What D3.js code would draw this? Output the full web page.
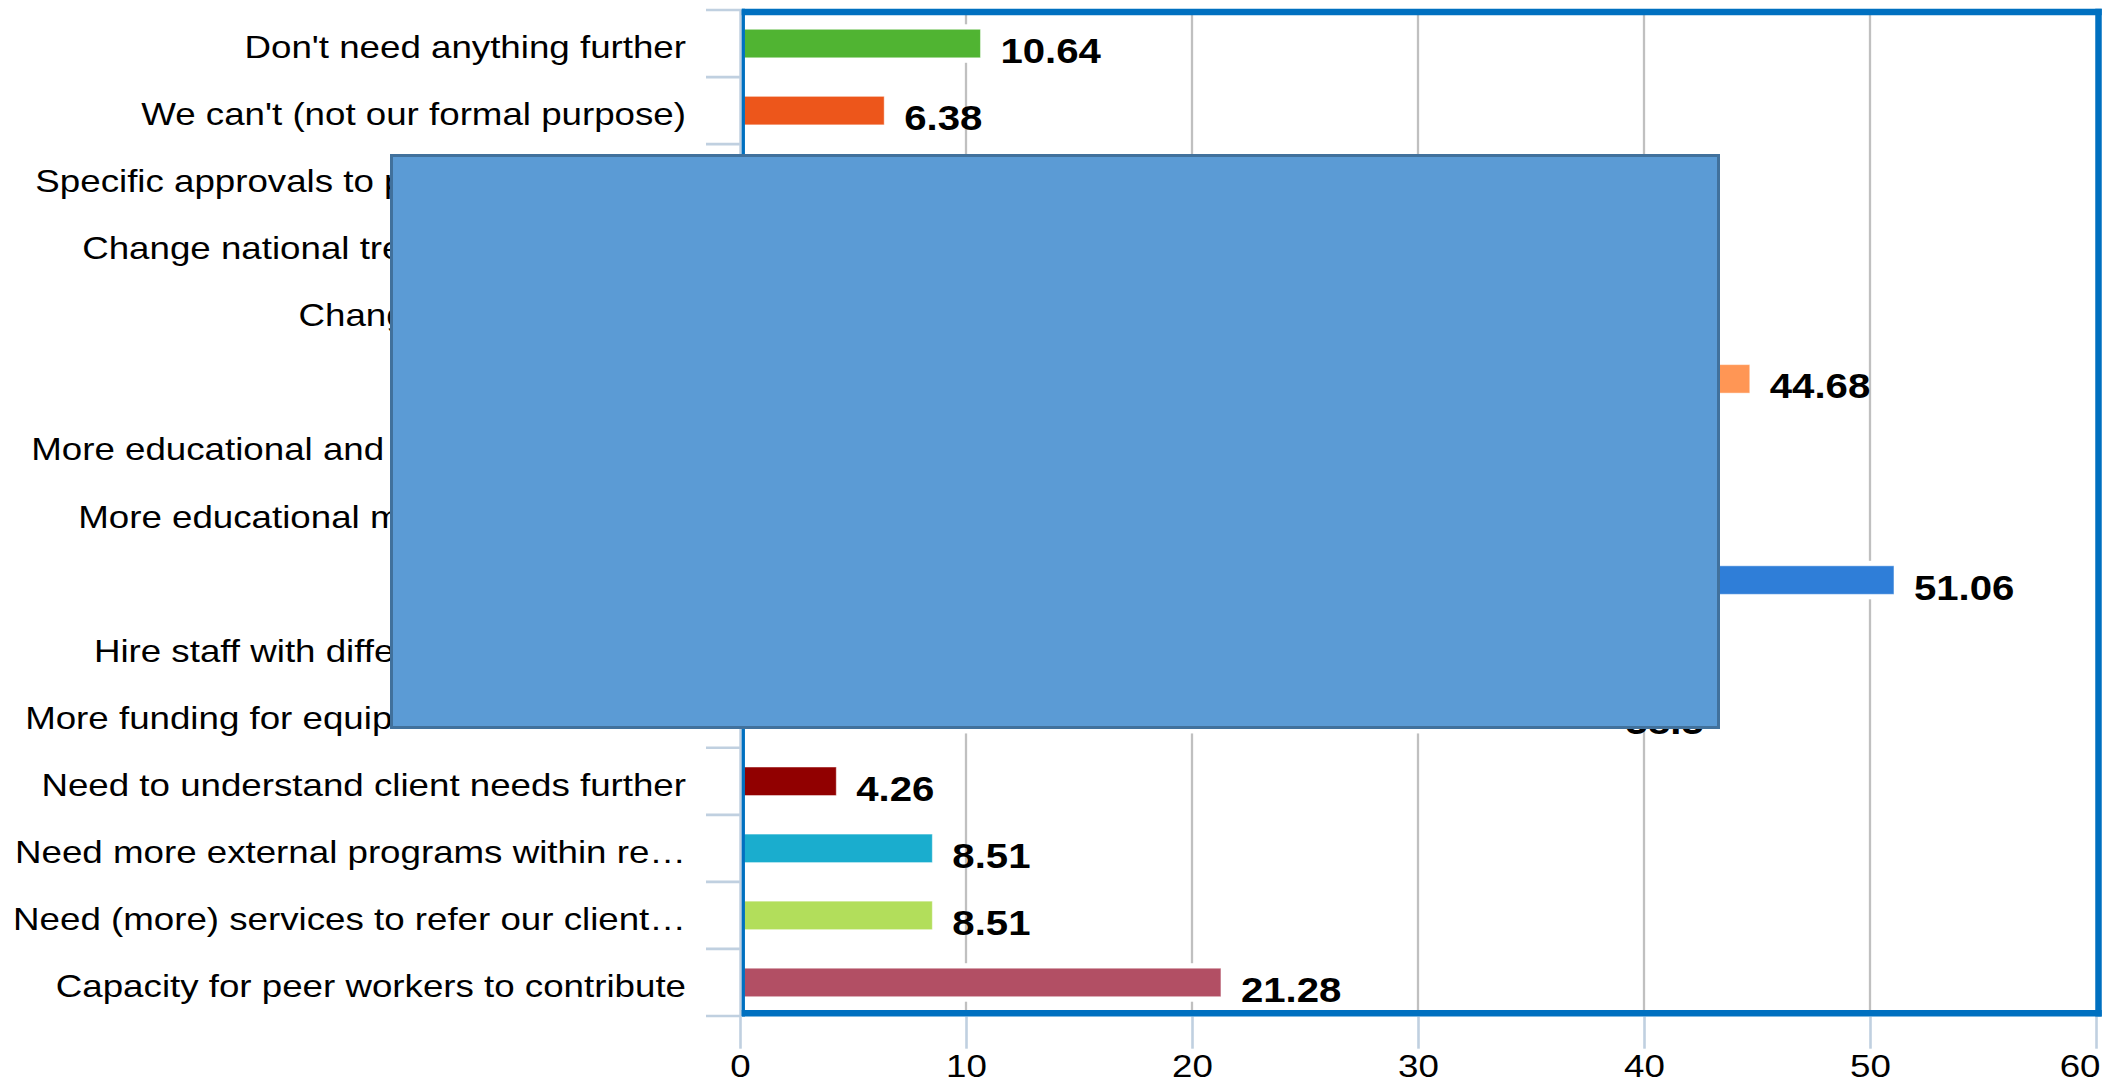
<!DOCTYPE html>
<html><head><meta charset="utf-8">
<script src="https://cdn.jsdelivr.net/npm/d3@7"></script>
<style>html,body{margin:0;padding:0;background:#fff;overflow:hidden}</style>
</head><body><svg id="chart" width="2104" height="1083"></svg>
<script>
const categories = [
  "Don't need anything further",
  "We can't (not our formal purpose)",
  "Specific approvals to provide equipment",
  "Change national treatment standards",
  "Change service policies",
  "Staff training",
  "More educational and training resources",
  "More educational materials for clients",
  "More staff",
  "Hire staff with different types of skills",
  "More funding for equipment and facilities",
  "Need to understand client needs further",
  "Need more external programs within reach",
  "Need (more) services to refer our clients to",
  "Capacity for peer workers to contribute"
];
const values = [10.64, 6.38, 14.89, 12.77, 19.15, 44.68, 31.91, 27.66, 51.06, 23.4, 38.3, 4.26, 8.51, 8.51, 21.28];
const barColors = ["#50B432","#ED561B","#DDDF00","#24CBE5","#64E572","#FF9655","#FFF263","#6AF9C4",
                   "#2F7ED8","#0D233A","#8BBC21","#910000","#1AADCE","#B2DE5B","#B24F64"];
const xTicks = [0, 10, 20, 30, 40, 50, 60];

const SX = 1.147;               // horizontal stretch of the text
const FONT = "'Liberation Sans', Arial, Helvetica, sans-serif";
const svg = d3.select("#chart");

const x = d3.scaleLinear().domain([0, 60]).range([740, 2096]);
const y = d3.scaleBand().domain(d3.range(categories.length)).range([10, 1016]);
const bh = 28.5;
const cy = i => y(i) + y.bandwidth() / 2;

// grid lines
svg.append("g").selectAll("line").data(xTicks.filter(t => t > 0 && t < 60)).join("line")
  .attr("x1", d => x(d)).attr("x2", d => x(d)).attr("y1", 14).attr("y2", 1011)
  .attr("stroke", "#c0c0c0").attr("stroke-width", 2.3);

// bar halos
svg.append("g").selectAll("rect").data(values).join("rect")
  .attr("x", x(0)).attr("y", (d, i) => cy(i) - bh / 2 - 5)
  .attr("width", d => x(d) - x(0) + 3).attr("height", bh + 10).attr("fill", "#fff");

// bars
svg.append("g").selectAll("rect").data(values).join("rect")
  .attr("x", x(0) + 4).attr("y", (d, i) => cy(i) - bh / 2)
  .attr("width", d => x(d) - x(0) - 4).attr("height", bh)
  .attr("fill", (d, i) => barColors[i])
  .attr("stroke", "#fff").attr("stroke-opacity", 0.45).attr("stroke-width", 1);

// y axis line & ticks at band boundaries
const yb = d3.range(categories.length).map(i => y(i)).concat([y.range()[1]]);
svg.append("line").attr("x1", 740.5).attr("x2", 740.5).attr("y1", 10).attr("y2", 1016)
  .attr("stroke", "#C0D0E0").attr("stroke-width", 2.5);
svg.append("g").selectAll("line").data(yb).join("line")
  .attr("x1", 706).attr("x2", 741).attr("y1", d => d).attr("y2", d => d)
  .attr("stroke", "#C0D0E0").attr("stroke-width", 2.7);

// x axis
const xAxis = svg.append("g").attr("transform", "translate(0,1016.7)")
  .call(d3.axisBottom(x).tickValues(xTicks).tickSize(32).tickFormat(d3.format("d")));
xAxis.select(".domain").remove();
xAxis.selectAll(".tick line").attr("stroke", "#C0D0E0").attr("stroke-width", 2.6);
xAxis.selectAll(".tick text")
  .attr("y", null).attr("dy", null)
  .attr("fill", "#000").attr("font-family", FONT).attr("font-size", 32)
  .attr("text-anchor", d => d === 60 ? "end" : "middle")
  .attr("transform", d => `translate(${d === 60 ? 4 : 0},60) scale(${SX},1)`);

// plot frame
const frame = svg.append("g").attr("stroke", "#0070C0").attr("fill", "none");
frame.append("line").attr("x1", 741.7).attr("x2", 2101.7).attr("y1", 12).attr("y2", 12).attr("stroke-width", 6.5);
frame.append("line").attr("x1", 741.7).attr("x2", 2101.7).attr("y1", 1013.3).attr("y2", 1013.3).attr("stroke-width", 6.5);
frame.append("line").attr("x1", 2098.5).attr("x2", 2098.5).attr("y1", 8.8).attr("y2", 1016.5).attr("stroke-width", 6.5);
frame.append("line").attr("x1", 743.3).attr("x2", 743.3).attr("y1", 8.8).attr("y2", 1016.5).attr("stroke-width", 3.3);

// category labels (ellipsis when too long)
const MAXW = 680;
svg.append("g").selectAll("text").data(categories).join("text")
  .attr("transform", (d, i) => `translate(686,${cy(i) + 14.5}) scale(${SX},1)`)
  .attr("text-anchor", "end").attr("font-family", FONT).attr("font-size", 32).attr("fill", "#000")
  .each(function (d) {
    const t = d3.select(this).text(d);
    if (this.getComputedTextLength() * SX > MAXW) {
      let s = d;
      while (s.length > 1) {
        s = s.slice(0, -1);
        t.text(s.trimEnd() + "\u2026");
        if (this.getComputedTextLength() * SX <= MAXW) break;
      }
    }
  });

// value labels
svg.append("g").selectAll("text").data(values).join("text")
  .attr("transform", (d, i) => `translate(${x(d) + 20},${cy(i) + 19.5}) scale(${SX},1)`)
  .attr("font-family", FONT).attr("font-size", 35).attr("font-weight", "bold")
  .attr("fill", "#000")
  .text(d => String(d));

// occluding shape drawn over the chart
svg.append("rect").attr("x", 391.5).attr("y", 155.5).attr("width", 1327).attr("height", 572)
  .attr("fill", "#5B9BD5").attr("stroke", "#41719C").attr("stroke-width", 3);
</script>
</body></html>
